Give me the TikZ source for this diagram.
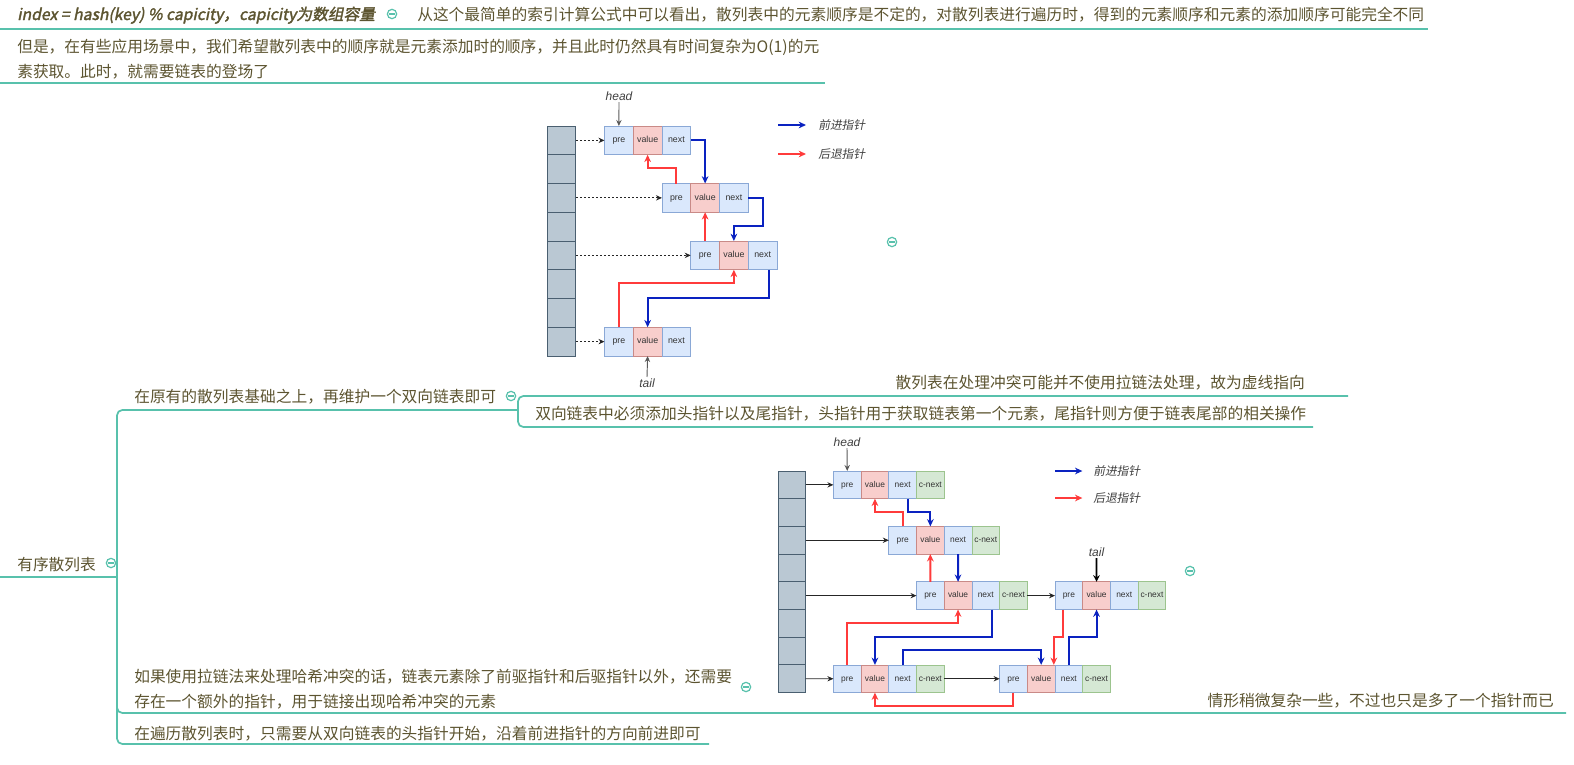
\documentclass[tikz,border=0pt]{standalone}
\usepackage{fontspec}
\setmainfont{Noto Sans CJK SC}
\newfontfamily\cjkbi{Noto Sans CJK SC}[FakeBold=2,FakeSlant=0.2]
\newfontfamily\cjki{Noto Sans CJK SC}[FakeSlant=0.2]
\newfontfamily\arialf{Liberation Sans}
\usetikzlibrary{arrows.meta,calc}
\definecolor{tl}{RGB}{88,193,172}
\definecolor{tx}{RGB}{92,84,48}
\definecolor{bfill}{HTML}{DAE8FC}
\definecolor{bdraw}{HTML}{8AA8D6}
\definecolor{rfill}{HTML}{F8CECC}
\definecolor{rdraw}{HTML}{C98A87}
\definecolor{gfill}{HTML}{D5E8D4}
\definecolor{gdraw}{HTML}{9CC48E}
\definecolor{afill}{HTML}{BAC8D3}
\definecolor{adraw}{HTML}{4A5F70}
\definecolor{blu}{HTML}{0A22C0}
\definecolor{rd}{HTML}{FF3B3B}
\newcommand\triU[4]{%
  \node[bcell,#4,anchor=north west] (#1p) at (#2,#3) {pre};
  \node[rcell,#4,anchor=north west] (#1v) at (#1p.north east) {value};
  \node[bcell,#4,anchor=north west] (#1n) at (#1v.north east) {next};}
\newcommand\quadL[3]{%
  \triU{#1}{#2}{#3}{lc}
  \node[gcell,lc,anchor=north west] (#1c) at (#1n.north east) {c-next};}
\begin{document}
\begin{tikzpicture}[x=0.75pt,y=-0.75pt,
  mt/.style={inner sep=0, text=tx, font=\fontsize{11.8}{14}\selectfont, anchor=base west},
  mte/.style={mt, anchor=base east},
  ln/.style={draw=tl, line width=1.3pt, rounded corners=4pt},
  coll/.style={circle, draw=tl, line width=0.9pt, fill=white, minimum size=7pt, inner sep=0,
    path picture={\draw[tl, line width=0.8pt] ($(path picture bounding box.center)+(-2pt,0)$) -- ($(path picture bounding box.center)+(2pt,0)$);}},
  cellbase/.style={inner sep=0, outer sep=0, line width=0.6pt, text=black!80, text height=4.3pt, text depth=0.9pt},
  bcell/.style={cellbase, draw=bdraw, fill=bfill},
  rcell/.style={cellbase, draw=rdraw, fill=rfill},
  gcell/.style={cellbase, draw=gdraw, fill=gfill},
  acell/.style={inner sep=0, outer sep=0, line width=0.7pt, draw=adraw, fill=afill},
  uc/.style={minimum width=21.5625pt, minimum height=21.5625pt, font=\arialf\fontsize{6.6}{7}\selectfont},
  lc/.style={minimum width=20.775pt, minimum height=20.775pt, font=\arialf\fontsize{6.3}{7}\selectfont},
  barr/.style={draw=blu, line width=1.5pt, -{Stealth[length=5.5pt,width=5pt]}},
  rarr/.style={draw=rd, line width=1.5pt, -{Stealth[length=5.5pt,width=5pt]}},
  karr/.style={draw=black!85, line width=0.7pt, -{Stealth[length=4.5pt,width=4pt]}},
  dotarr/.style={karr, dash pattern=on 1.5pt off 1.5pt},
  harr/.style={draw=black!65, line width=0.7pt, -{Stealth[length=4.5pt,width=4pt]}},
  tarr/.style={draw=black, line width=1.3pt, -{Stealth[length=5pt,width=5pt]}},
  lbl/.style={font=\arialf\itshape\fontsize{9}{10}\selectfont, text=black!75, inner sep=1pt},
  leg/.style={font=\cjki\fontsize{8.8}{10}\selectfont, text=black!75, anchor=west, inner sep=0}
]
\useasboundingbox (0,0) rectangle (1574,764);

% ---------- top texts ----------
\node[mt] (t1) at (17,20) {\cjkbi index = hash(key) \% capicity，capicity为数组容量};
\node[coll] (c1) at (392,14) {};
\node[mt] (t2) at (417,20) {从这个最简单的索引计算公式中可以看出，散列表中的元素顺序是不定的，对散列表进行遍历时，得到的元素顺序和元素的添加顺序可能完全不同};
\draw[ln] (0,29) -- (1428,29);
\node[mt] (t3a) at (17,52) {但是，在有些应用场景中，我们希望散列表中的顺序就是元素添加时的顺序，并且此时仍然具有时间复杂为O(1)的元};
\node[mt] (t3b) at (17,77) {素获取。此时，就需要链表的登场了};
\draw[ln] (0,83) -- (825,83);

% ---------- mind map skeleton ----------
\node[mt] (root) at (17,570) {有序散列表};
\node[coll] (c2) at (111,563) {};
\draw[ln] (0,577) -- (117,577);
\draw[ln] (518,410) -- (117,410) -- (117,744) -- (709,744);
\draw[ln] (117,700) |- (1566,713);
\node[mt] (b1) at (134,402) {在原有的散列表基础之上，再维护一个双向链表即可};
\node[coll] (c3) at (511,396) {};
\draw[ln] (1348,396) -- (518,396) -- (518,427) -- (1313,427);
\node[mte] (b1a) at (1305,388) {散列表在处理冲突可能并不使用拉链法处理，故为虚线指向};
\node[mt] (b1b) at (535,419) {双向链表中必须添加头指针以及尾指针，头指针用于获取链表第一个元素，尾指针则方便于链表尾部的相关操作};
\node[mt] (b2a) at (134,682) {如果使用拉链法来处理哈希冲突的话，链表元素除了前驱指针和后驱指针以外，还需要};
\node[mt] (b2b) at (134,707) {存在一个额外的指针，用于链接出现哈希冲突的元素};
\node[coll] (c4) at (746,687) {};
\node[mte] (b2c) at (1554,706) {情形稍微复杂一些，不过也只是多了一个指针而已};
\node[mt] (b3) at (134,739) {在遍历散列表时，只需要从双向链表的头指针开始，沿着前进指针的方向前进即可};
\node[coll] (c5) at (892,242) {};
\node[coll] (c6) at (1190,571) {};

% ---------- upper diagram ----------
\foreach \k in {0,...,7} \node[acell,uc,anchor=north west] (ua\k) at (547,{126+\k*28.75}) {};
\triU{u1}{604.5}{126}{uc}
\triU{u2}{662}{183.5}{uc}
\triU{u3}{690.75}{241}{uc}
\triU{u4}{604.5}{327.25}{uc}
\draw[dotarr] (ua0.east) -- (u1p.west);
\draw[dotarr] (ua2.east) -- (u2p.west);
\draw[dotarr] (ua4.east) -- (u3p.west);
\draw[dotarr] (ua7.east) -- (u4p.west);
\draw[barr] (u1n.east) -| (u2v.north);
\draw[barr] (u2n.east) -| (763,226) -| (u3v.north);
\coordinate (ub3s) at ([xshift=4.9pt]u3n.south);
\draw[barr] (ub3s) |- (u4v.north |- 0,298) -- (u4v.north);
\draw[rarr] (u2p.north) |- (u1v.south |- 0,168) -- (u1v.south);
\draw[rarr] (u3p.north) -- (u2v.south);
\draw[rarr] (u4p.north) |- (u3v.south |- 0,283) -- (u3v.south);
\node[lbl] (uh) at (619,96) {head};
\draw[harr] (uh.south) -- (u1p.north);
\node[lbl] (ut) at (647,383) {tail};
\draw[harr] (ut.north) -- (u4v.south);
\coordinate (ulb) at (778,125);
\node[leg] (ulbt) at (818,125) {前进指针};
\draw[barr, shorten >=9pt] (ulb) -- (ulbt.west);
\coordinate (ulr) at (778,154);
\node[leg] (ulrt) at (818,154) {后退指针};
\draw[rarr, shorten >=9pt] (ulr) -- (ulrt.west);

% ---------- lower diagram ----------
\foreach \k in {0,...,7} \node[acell,lc,anchor=north west] (la\k) at (778,{471+\k*27.7}) {};
\quadL{l1}{833.4}{471}
\quadL{l2}{888.8}{526.4}
\quadL{l3}{916.5}{581.8}
\quadL{l3b}{1055}{581.8}
\quadL{l4a}{833.4}{664.9}
\quadL{l4b}{999.6}{664.9}
\draw[karr] (la0.east) -- (l1p.west);
\draw[karr] (la2.east) -- (l2p.west);
\draw[karr] (la4.east) -- (l3p.west);
\draw[karr] (la7.east) -- (l4ap.west);
\draw[karr] (l3c.east) -- (l3bp.west);
\draw[karr] (l4ac.east) -- (l4bp.west);
% forward (blue)
\coordinate (b1s) at ([xshift=3.75pt]l1n.south);
\draw[barr] (b1s) |- (l2v.north |- 0,512) -- (l2v.north);
\draw[barr] (l2n.south) -- (l3v.north);
\coordinate (b3s) at ([xshift=4.5pt]l3n.south);
\draw[barr] (b3s) |- (l4av.north |- 0,637) -- (l4av.north);
\draw[barr] (l4an.north) |- (l4bv.north |- 0,650) -- (l4bv.north);
\draw[barr] (l4bn.north) |- (l3bv.south |- 0,637) -- (l3bv.south);
% backward (red)
\draw[rarr] (l2p.north) |- (l1v.south |- 0,512) -- (l1v.south);
\draw[rarr] (l3p.north) -- (l2v.south);
\draw[rarr] (l4ap.north) |- (l3v.south |- 0,623) -- (l3v.south);
\coordinate (r4s) at ([xshift=-4.5pt]l3bp.south);
\coordinate (r4e) at ([xshift=9.5pt]l4bv.north);
\draw[rarr] (r4s) |- (r4e |- 0,637) -- (r4e);
\draw[rarr] (l4bp.south) |- (l4av.south |- 0,706) -- (l4av.south);
\node[lbl] (lh) at (847,442) {head};
\draw[harr] (lh.south) -- (l1p.north);
\node[lbl] (lt) at (1096.5,552) {tail};
\draw[tarr] (lt.south) -- (l3bv.north);
\coordinate (llb) at (1055,471);
\node[leg] (llbt) at (1093,471) {前进指针};
\draw[barr, shorten >=8pt] (llb) -- (llbt.west);
\coordinate (llr) at (1055,498);
\node[leg] (llrt) at (1093,498) {后退指针};
\draw[rarr, shorten >=8pt] (llr) -- (llrt.west);
\end{tikzpicture}
\end{document}
